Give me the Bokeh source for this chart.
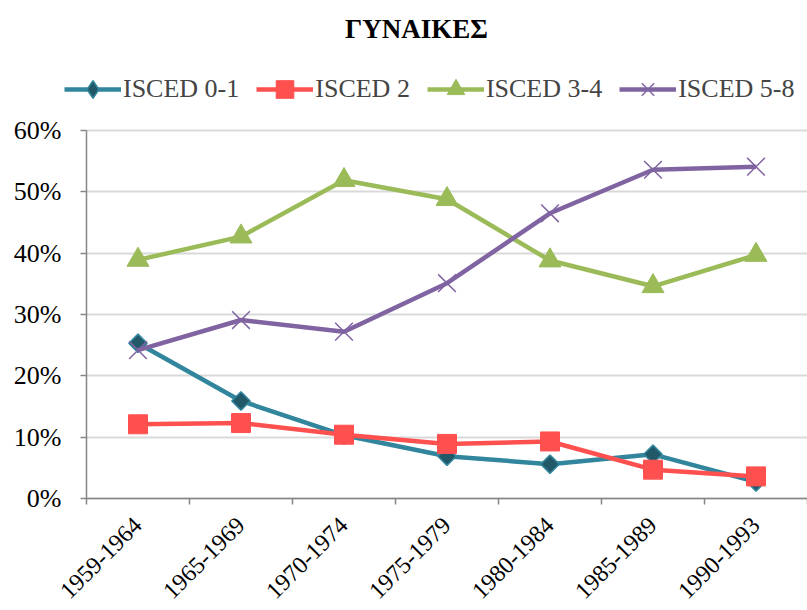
import math
from bokeh.plotting import figure
from bokeh.models import (Legend, LegendItem, Label, FixedTicker, NumeralTickFormatter, Range1d)
from bokeh.embed import file_html
from bokeh.resources import INLINE

title_text = "ΓΥΝΑΙΚΕΣ"
categories = ["1959-1964", "1965-1969", "1970-1974", "1975-1979", "1980-1984", "1985-1989", "1990-1993"]
series_names = ["ISCED 0-1", "ISCED 2", "ISCED 3-4", "ISCED 5-8"]
isced_0_1 = [0.253, 0.159, 0.103, 0.069, 0.056, 0.072, 0.027]
isced_2 = [0.121, 0.123, 0.104, 0.089, 0.093, 0.047, 0.036]
isced_3_4 = [0.389, 0.427, 0.519, 0.488, 0.388, 0.346, 0.397]
isced_5_8 = [0.242, 0.291, 0.272, 0.351, 0.465, 0.536, 0.541]
y_ticks = [0.0, 0.1, 0.2, 0.3, 0.4, 0.5, 0.6]

FONT = "Liberation Serif"
W, H = 807, 610
PLOT_LEFT, PLOT_TOP, PLOT_BOTTOM = 86, 130, 498   # pixel layout of the plotting area
n = len(categories)
xs = [i + 0.5 for i in range(n)]
y_max = y_ticks[-1]

# the frame covers the whole canvas; axes are pinned at x=0 / y=0
x_start = -PLOT_LEFT * n / (W - PLOT_LEFT)
per_px = y_max / (PLOT_BOTTOM - PLOT_TOP)
y_start = -(H - PLOT_BOTTOM) * per_px
y_end = y_max + PLOT_TOP * per_px

p = figure(width=W, height=H, output_backend="svg", toolbar_location=None,
           x_range=Range1d(x_start, n), y_range=Range1d(y_start, y_end),
           min_border_left=0, min_border_right=0, min_border_top=0, min_border_bottom=0)
p.outline_line_color = None
p.background_fill_color = "white"
p.border_fill_color = "white"

# axes
p.xaxis.ticker = FixedTicker(ticks=xs, minor_ticks=list(range(n + 1)))
p.xaxis.major_label_overrides = {x: c for x, c in zip(xs, categories)}
p.xaxis.fixed_location = 0
p.xaxis.bounds = (0, n)
p.xaxis.major_tick_out = 0
p.xaxis.major_tick_in = 0
p.xaxis.minor_tick_out = 6
p.xaxis.minor_tick_in = 0
p.xaxis.minor_tick_line_color = "#868686"
p.xaxis.minor_tick_line_width = 1.5
p.xaxis.major_label_orientation = math.pi / 4
p.xaxis.major_label_standoff = 17

p.yaxis.ticker = FixedTicker(ticks=y_ticks)
p.yaxis.formatter = NumeralTickFormatter(format="0%")
p.yaxis.fixed_location = 0
p.yaxis.bounds = (0, y_max)
p.yaxis.major_tick_out = 6
p.yaxis.major_tick_in = 0
p.yaxis.minor_tick_line_color = None
p.yaxis.major_label_standoff = 19

for ax in (p.xaxis, p.yaxis):
    ax.axis_line_color = "#868686"
    ax.axis_line_width = 1.5
    ax.major_tick_line_color = "#868686"
    ax.major_tick_line_width = 1.5
    ax.major_label_text_font = FONT
    ax.major_label_text_color = "black"
p.yaxis.major_label_text_font_size = "26px"
p.xaxis.major_label_text_font_size = "24px"

p.xgrid.grid_line_color = None
p.ygrid.grid_line_color = "#d9d9d9"
p.ygrid.grid_line_width = 2
p.ygrid.cross_bounds = (0, n)

items = []
l1 = p.line(xs, isced_0_1, line_color="#31859C", line_width=4.5)
s1 = p.scatter(xs, isced_0_1, marker="square", angle=math.pi / 4, size=13,
               fill_color="#215968", line_color="#31859C", line_width=1.5)
# legend key for the diamond marker (a single NaN point, never drawn in the plot)
s1_key = p.scatter([float("nan")], [float("nan")], marker="diamond", fill_color="#215968",
                   line_color="#31859C", line_width=1.5)
items.append(LegendItem(label=series_names[0], renderers=[l1, s1_key]))

l2 = p.line(xs, isced_2, line_color="#FF5050", line_width=4.5)
s2 = p.scatter(xs, isced_2, marker="square", size=19,
               fill_color="#FF5050", line_color="#FF5050", line_width=1)
items.append(LegendItem(label=series_names[1], renderers=[l2, s2]))

l3 = p.line(xs, isced_3_4, line_color="#9BBB59", line_width=4.5)
s3 = p.scatter(xs, isced_3_4, marker="triangle", size=22,
               fill_color="#9BBB59", line_color="#9BBB59", line_width=1)
items.append(LegendItem(label=series_names[2], renderers=[l3, s3]))

l4 = p.line(xs, isced_5_8, line_color="#8064A2", line_width=4.5)
s4 = p.scatter(xs, isced_5_8, marker="x", size=25,
               line_color="#8064A2", line_width=1.5)
items.append(LegendItem(label=series_names[3], renderers=[l4, s4]))

legend = Legend(items=items, orientation="horizontal", location=(64, H - 111),
                label_text_font=FONT, label_text_font_size="26px",
                glyph_width=57, glyph_height=44, label_standoff=2, spacing=17,
                padding=0, margin=0, border_line_color=None, background_fill_alpha=0)
p.add_layout(legend, "center")

p.add_layout(Label(x=416, y=H - 28, x_units="screen", y_units="screen", text=title_text,
                   text_font=FONT, text_font_size="27px", text_font_style="bold",
                   text_align="center", text_baseline="alphabetic", text_color="black"))

open("out.html", "w").write(file_html(p, INLINE))
